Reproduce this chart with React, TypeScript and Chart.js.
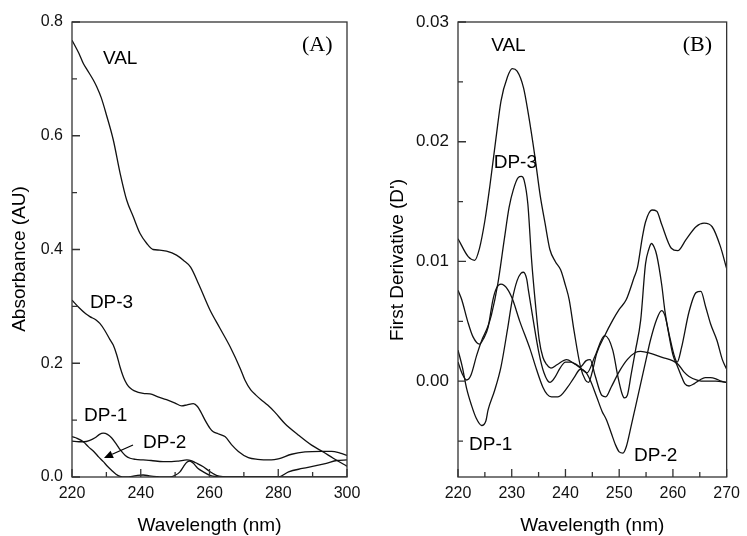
import React, { useEffect, useRef } from "react";
import { Chart, registerables } from "chart.js";

Chart.register(...registerables);

// ---------------- Panel A : absorbance spectra ----------------
const A_VAL_NM = [220, 222, 223.3, 224.5, 226.2, 227.2, 228.5, 230, 232, 234, 235.9, 237.8, 239.8, 241.7, 243.6, 245.5, 247.5, 250.4, 252.4, 254.5, 257, 260.1, 263, 266, 269, 270.3, 272, 273.5, 275, 277, 279, 281.9, 285.8, 289.7, 293.1, 296, 299.4, 300];
const A_VAL = [0.768, 0.745, 0.727, 0.715, 0.698, 0.686, 0.667, 0.637, 0.593, 0.534, 0.487, 0.458, 0.428, 0.411, 0.4, 0.399, 0.397, 0.39, 0.381, 0.369, 0.337, 0.294, 0.262, 0.229, 0.19, 0.1705, 0.153, 0.144, 0.136, 0.126, 0.114, 0.094, 0.074, 0.056, 0.044, 0.033, 0.021, 0.019];

const A_DP3_NM = [220, 222, 224, 225.2, 227, 228.1, 229.5, 231, 232, 233, 234, 235, 236, 237, 238, 240.7, 242.7, 245, 247.5, 250, 251.9, 253.5, 255.3, 256.5, 257.5, 258.7, 260.1, 261, 262.5, 264.5, 266.4, 268.4, 271.3, 274, 278, 280, 283.9, 287.8, 292.6, 295.5, 298, 300];
const A_DP3 = [0.311, 0.298, 0.287, 0.282, 0.276, 0.27, 0.258, 0.242, 0.232, 0.215, 0.193, 0.175, 0.163, 0.156, 0.152, 0.147, 0.146, 0.141, 0.136, 0.13, 0.125, 0.127, 0.129, 0.124, 0.114, 0.1, 0.086, 0.08, 0.076, 0.071, 0.057, 0.045, 0.034, 0.031, 0.03, 0.032, 0.04, 0.044, 0.045, 0.045, 0.042, 0.038];

const A_DP1_NM = [220, 222, 223.5, 225, 226.7, 228, 229.1, 230.3, 231.5, 233, 234, 235.5, 236.9, 238.5, 240.7, 243, 246.5, 249, 251, 253.4, 254.6, 256, 258.2, 260, 262, 264, 266, 280, 283, 287, 291, 294, 297, 300];
const A_DP1 = [0.063, 0.062, 0.062, 0.064, 0.069, 0.075, 0.077, 0.075, 0.069, 0.057, 0.048, 0.038, 0.033, 0.031, 0.03, 0.029, 0.027, 0.027, 0.028, 0.03, 0.029, 0.025, 0.018, 0.01, 0.003, 0.0005, 0, 0, 0.009, 0.015, 0.02, 0.024, 0.029, 0.03];

const A_DP2_NM = [220, 221.5, 223.3, 224.8, 226.4, 227.8, 229.1, 230.3, 231.5, 232.8, 234, 235.5, 237.5, 239, 240.7, 242.5, 244.6, 246, 248.5, 250, 251.4, 252.4, 253.4, 254.3, 255.3, 256.5, 258.2, 260.1, 262, 264, 300];
const A_DP2 = [0.071, 0.068, 0.062, 0.053, 0.0445, 0.035, 0.027, 0.019, 0.012, 0.005, 0.001, 0, 0.001, 0.003, 0.0035, 0.002, 0.0006, 0, 0, 0.003, 0.009, 0.018, 0.026, 0.028, 0.024, 0.016, 0.009, 0.003, 0.0005, 0, 0];

const A_X_MAJOR = [220, 240, 260, 280, 300];
const A_X_MINOR = [230, 250, 270, 290];
const A_Y_MAJOR = [0, 0.2, 0.4, 0.6, 0.8];
const A_Y_MINOR = [0.1, 0.3, 0.5, 0.7];

const A_LABELS = [
  { text: "VAL", nm: 229.0, v: 0.7358 },
  { text: "DP-3", nm: 225.2, v: 0.3068 },
  { text: "DP-1", nm: 223.5, v: 0.1081 },
  { text: "DP-2", nm: 240.65, v: 0.0607 },
];
const A_TAG = { text: "(A)", nm: 286.9, v: 0.7596 };
const A_ARROW = { fromNm: 237.75, fromV: 0.0563, toNm: 229.3, toV: 0.0334 };

// ---------------- Panel B : first derivative ----------------
const B_VAL_NM = [220, 221.9, 223.1, 224, 225, 225.9, 227.1, 228, 229.2, 230.1, 231, 232.2, 233.1, 234.3, 235.3, 236.2, 237.1, 238.1, 239.1, 240, 240.7, 241.6, 242.8, 243.7, 244.3, 245, 245.8, 247.3, 248.8, 250, 251.3, 252.8, 253.4, 254.3, 254.9, 256.1, 257, 257.9, 259.7, 260.9, 262.4, 264.3, 265.8, 267.3, 268.8, 270];
const B_VAL = [0.0119, 0.0104, 0.0101, 0.0111, 0.0134, 0.0162, 0.0204, 0.0234, 0.0254, 0.0261, 0.0259, 0.0245, 0.0223, 0.0188, 0.0155, 0.0132, 0.011, 0.01, 0.0093, 0.008, 0.0068, 0.0042, 0.0012, 0.0001, -0.0001, 0.0008, 0.0023, 0.0038, 0.0051, 0.006, 0.0068, 0.0087, 0.0095, 0.012, 0.0133, 0.0143, 0.0142, 0.0131, 0.0111, 0.0109, 0.0118, 0.0129, 0.0132, 0.0129, 0.0113, 0.0094];

const B_DP3_NM = [220, 220.8, 221.6, 222.4, 223.5, 224.5, 225.5, 226.2, 227.4, 228.6, 229.5, 230.3, 231.2, 231.8, 232.3, 233, 233.7, 234.4, 235.1, 235.8, 236.5, 237.3, 238.5, 240.2, 241.5, 242.8, 244, 245.5, 247.3, 248.8, 249.75, 250.5, 251, 251.5, 252.2, 253, 254, 254.9, 255.5, 256, 256.5, 257, 257.9, 258.5, 259.2, 260, 260.8, 261.5, 262.2, 263, 264, 265, 266, 267, 268, 269, 270];
const B_DP3 = [0.0016, 0.0006, 0.0001, 0.0005, 0.0022, 0.0035, 0.0045, 0.0055, 0.0081, 0.0118, 0.0145, 0.016, 0.017, 0.0171, 0.0168, 0.0148, 0.0101, 0.0065, 0.0035, 0.002, 0.0014, 0.0011, 0.0014, 0.0018, 0.0015, 0.0011, 0.0007, 0.0021, 0.0038, 0.0026, 0.0004, -0.001, -0.0014, -0.0012, 0.0005, 0.0025, 0.0051, 0.0098, 0.011, 0.0115, 0.0112, 0.0105, 0.0081, 0.0059, 0.004, 0.0022, 0.0013, 0.0005, -0.0002, -0.0004, -0.0002, 0.0001, 0.0003, 0.0003, 0.0002, 0, -0.0001];

const B_DP1_NM = [220, 220.8, 221.6, 222.5, 223.4, 224.4, 225.2, 225.6, 226.8, 228, 229.2, 230.1, 231, 231.7, 232.2, 232.8, 233.1, 234, 235, 236, 237.1, 238, 239, 240, 241, 242, 242.8, 243.8, 244.6, 245.5, 246.8, 247.5, 248.5, 250, 251.5, 253, 254, 256, 258, 260, 261, 262, 263, 264.5, 266, 268, 270];
const B_DP1 = [0.0026, 0.0012, -0.0006, -0.002, -0.0031, -0.0037, -0.0033, -0.0024, -0.0008, 0.0012, 0.0043, 0.0068, 0.0084, 0.009, 0.0091, 0.0085, 0.0076, 0.0051, 0.0025, 0.0007, -0.0001, 0.0003, 0.0011, 0.0016, 0.0016, 0.0014, 0.0012, 0.0017, 0.0018, 0.0005, -0.0012, -0.0013, -0.0005, 0.0008, 0.0018, 0.0024, 0.0025, 0.0023, 0.002, 0.0017, 0.0014, 0.0008, 0.0004, 0.0001, 0, 0, -0.0001];

const B_DP2_NM = [220, 220.7, 221.8, 222.8, 224, 224.8, 225.6, 226.5, 227.2, 228, 229.2, 230.1, 231.5, 233.4, 234.6, 235.8, 236.6, 237.4, 238.6, 240.4, 241.6, 242.8, 243.7, 244.6, 245.8, 246.8, 247.6, 248.5, 249.3, 250, 250.7, 251.3, 252.2, 253, 254, 255, 255.8, 257, 257.9, 258.5, 259.4, 260.2, 260.8, 261.6, 263, 264.3, 265.2, 266.1, 267, 268.2, 269.2, 270];
const B_DP2 = [0.0076, 0.0068, 0.005, 0.0037, 0.0031, 0.0036, 0.0045, 0.0068, 0.0078, 0.0081, 0.0077, 0.0069, 0.005, 0.0027, 0.001, -0.0005, -0.0011, -0.0013, -0.0013, -0.0005, 0.0003, 0.001, 0.0008, 0.0001, -0.0013, -0.0025, -0.0032, -0.0043, -0.0053, -0.0059, -0.006, -0.0055, -0.0038, -0.0022, -0.0002, 0.0018, 0.0034, 0.0052, 0.0059, 0.0055, 0.0037, 0.0022, 0.0016, 0.0028, 0.0058, 0.0074, 0.0075, 0.0062, 0.0048, 0.0034, 0.0018, 0.001];

const B_X_MAJOR = [220, 230, 240, 250, 260, 270];
const B_X_MINOR = [225, 235, 245, 255, 265];
const B_Y_MAJOR = [0, 0.01, 0.02, 0.03];
const B_Y_MINOR = [-0.005, 0.005, 0.015, 0.025];

const B_LABELS = [
  { text: "VAL", nm: 226.17, v: 0.028 },
  { text: "DP-3", nm: 226.64, v: 0.01828 },
  { text: "DP-1", nm: 222.05, v: -0.00527 },
  { text: "DP-2", nm: 252.77, v: -0.00623 },
];
const B_TAG = { text: "(B)", nm: 261.83, v: 0.02807 };

// ---------------- drawing helpers ----------------
const SANS = "Arial, 'Liberation Sans', sans-serif";
const SERIF = "'Times New Roman', 'Liberation Serif', serif";
const LINE_COLOR = "#111";

function pts(xs: number[], ys: number[]) {
  return xs.map((x, i) => ({ x, y: ys[i] }));
}

function decor(cfg: any) {
  return {
    id: "decor",
    afterDatasetsDraw(chart: any) {
      const { ctx, chartArea: a, scales } = chart;
      const xs = scales.x;
      const ys = scales.y;
      ctx.save();
      ctx.strokeStyle = "#333";
      ctx.lineWidth = 1.3;
      ctx.strokeRect(a.left, a.top, a.right - a.left, a.bottom - a.top);
      ctx.beginPath();
      const tick = (vals: number[], len: number, isX: boolean) => {
        for (const v of vals) {
          if (isX) {
            const p = xs.getPixelForValue(v);
            ctx.moveTo(p, a.bottom);
            ctx.lineTo(p, a.bottom - len);
          } else {
            const p = ys.getPixelForValue(v);
            ctx.moveTo(a.left, p);
            ctx.lineTo(a.left + len, p);
          }
        }
      };
      tick(cfg.xMajor, 8, true);
      tick(cfg.xMinor, 5, true);
      tick(cfg.yMajor, 8, false);
      tick(cfg.yMinor, 5, false);
      ctx.stroke();

      ctx.fillStyle = "#000";
      ctx.textAlign = "left";
      ctx.textBaseline = "middle";
      ctx.font = `19px ${SANS}`;
      for (const t of cfg.labels) {
        ctx.fillText(t.text, xs.getPixelForValue(t.nm), ys.getPixelForValue(t.v));
      }
      ctx.font = `22px ${SERIF}`;
      ctx.fillText(cfg.tag.text, xs.getPixelForValue(cfg.tag.nm), ys.getPixelForValue(cfg.tag.v));

      if (cfg.arrow) {
        const x1 = xs.getPixelForValue(cfg.arrow.fromNm);
        const y1 = ys.getPixelForValue(cfg.arrow.fromV);
        const x2 = xs.getPixelForValue(cfg.arrow.toNm);
        const y2 = ys.getPixelForValue(cfg.arrow.toV);
        const ang = Math.atan2(y2 - y1, x2 - x1);
        const hl = 9;
        const hw = 4;
        const bx = x2 - hl * Math.cos(ang);
        const by = y2 - hl * Math.sin(ang);
        ctx.strokeStyle = "#000";
        ctx.lineWidth = 1.2;
        ctx.beginPath();
        ctx.moveTo(x1, y1);
        ctx.lineTo(bx, by);
        ctx.stroke();
        ctx.beginPath();
        ctx.moveTo(x2, y2);
        ctx.lineTo(bx + hw * Math.sin(ang), by - hw * Math.cos(ang));
        ctx.lineTo(bx - hw * Math.sin(ang), by + hw * Math.cos(ang));
        ctx.closePath();
        ctx.fill();
      }

      ctx.font = `19px ${SANS}`;
      ctx.textAlign = "center";
      ctx.textBaseline = "alphabetic";
      ctx.fillText(cfg.xTitle, (a.left + a.right) / 2, cfg.xTitleBaseline);
      ctx.save();
      ctx.translate(cfg.yTitleX, cfg.yTitleY);
      ctx.rotate(-Math.PI / 2);
      ctx.textBaseline = "middle";
      ctx.fillText(cfg.yTitle, 0, 0);
      ctx.restore();
      ctx.restore();
    },
  };
}

function buildConfig(p: any) {
  return {
    type: "line",
    data: {
      datasets: p.series.map((s: any) => ({
        label: s.name,
        data: pts(s.xs, s.ys),
        borderColor: LINE_COLOR,
        borderWidth: 1.3,
        pointRadius: 0,
        fill: false,
        cubicInterpolationMode: "monotone",
      })),
    },
    options: {
      responsive: false,
      animation: false,
      events: [],
      layout: { padding: { left: 0, top: 22, right: p.padRight, bottom: 0 } },
      plugins: { legend: { display: false }, tooltip: { enabled: false }, title: { display: false } },
      scales: {
        x: {
          type: "linear",
          min: p.xMin,
          max: p.xMax,
          grid: { display: false, drawTicks: false },
          border: { display: false },
          afterBuildTicks: (s: any) => {
            s.ticks = p.xMajor.map((v: number) => ({ value: v }));
          },
          afterFit: (s: any) => {
            s.height = 59;
          },
          ticks: {
            autoSkip: false,
            maxRotation: 0,
            padding: 7,
            color: "#111",
            font: { family: SANS, size: 16 },
            callback: (v: any) => String(v),
          },
        },
        y: {
          type: "linear",
          min: p.yMin,
          max: p.yMax,
          grid: { display: false, drawTicks: false },
          border: { display: false },
          afterBuildTicks: (s: any) => {
            s.ticks = p.yMajor.map((v: number) => ({ value: v }));
          },
          afterFit: (s: any) => {
            s.width = p.yWidth;
          },
          ticks: {
            padding: 9,
            color: "#111",
            font: { family: SANS, size: p.yFont },
            callback: (v: any) => Number(v).toFixed(p.yDigits),
          },
        },
      },
    },
    plugins: [decor(p)],
  };
}

const PANEL_A = {
  series: [
    { name: "VAL", xs: A_VAL_NM, ys: A_VAL },
    { name: "DP-3", xs: A_DP3_NM, ys: A_DP3 },
    { name: "DP-1", xs: A_DP1_NM, ys: A_DP1 },
    { name: "DP-2", xs: A_DP2_NM, ys: A_DP2 },
  ],
  xMin: 220, xMax: 300, yMin: 0, yMax: 0.8,
  xMajor: A_X_MAJOR, xMinor: A_X_MINOR, yMajor: A_Y_MAJOR, yMinor: A_Y_MINOR,
  yDigits: 1, yFont: 16, yWidth: 72, padRight: 23,
  labels: A_LABELS, tag: A_TAG, arrow: A_ARROW,
  xTitle: "Wavelength (nm)", xTitleBaseline: 531,
  yTitle: "Absorbance (AU)", yTitleX: 20, yTitleY: 259,
};

const PANEL_B = {
  series: [
    { name: "VAL", xs: B_VAL_NM, ys: B_VAL },
    { name: "DP-3", xs: B_DP3_NM, ys: B_DP3 },
    { name: "DP-1", xs: B_DP1_NM, ys: B_DP1 },
    { name: "DP-2", xs: B_DP2_NM, ys: B_DP2 },
  ],
  xMin: 220, xMax: 270, yMin: -0.008, yMax: 0.03,
  xMajor: B_X_MAJOR, xMinor: B_X_MINOR, yMajor: B_Y_MAJOR, yMinor: B_Y_MINOR,
  yDigits: 2, yFont: 17, yWidth: 88, padRight: 14,
  labels: B_LABELS, tag: B_TAG, arrow: null,
  xTitle: "Wavelength (nm)", xTitleBaseline: 531,
  yTitle: "First Derivative (D')", yTitleX: 28, yTitleY: 260,
};

function Panel({ cfg, width, left }: { cfg: any; width: number; left: number }) {
  const ref = useRef<HTMLCanvasElement | null>(null);
  useEffect(() => {
    if (!ref.current) return;
    const chart = new Chart(ref.current, buildConfig(cfg) as any);
    return () => chart.destroy();
  }, [cfg]);
  return (
    <canvas
      ref={ref}
      width={width}
      height={536}
      style={{ position: "absolute", left, top: 0, width, height: 536, display: "block" }}
    />
  );
}

export default function App() {
  return (
    <div style={{ position: "fixed", left: 0, top: 0, width: 747, height: 536, background: "#fff", overflow: "hidden" }}>
      <Panel cfg={PANEL_A} width={370} left={0} />
      <Panel cfg={PANEL_B} width={377} left={370} />
    </div>
  );
}
